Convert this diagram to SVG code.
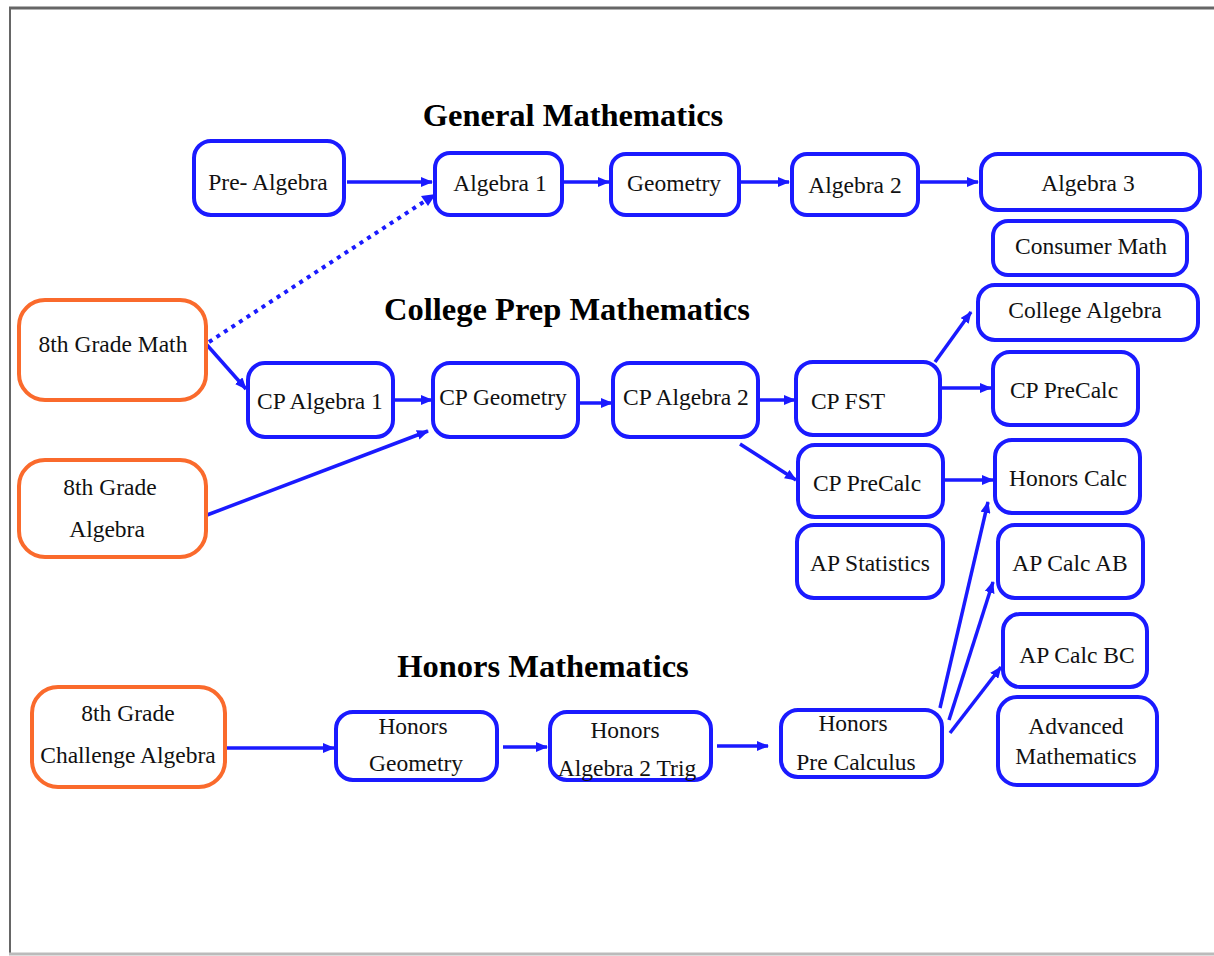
<svg xmlns="http://www.w3.org/2000/svg" width="1214" height="956" viewBox="0 0 1214 956">
<style>
.b{fill:#fff;stroke:#1a1aff;stroke-width:4}
.o{fill:#fff;stroke:#fa6a2c;stroke-width:4}
.t{font-family:"Liberation Serif","Times New Roman",serif;font-size:23.5px;fill:#111;text-anchor:middle}
.h{font-family:"Liberation Serif","Times New Roman",serif;font-size:32.5px;font-weight:bold;fill:#000;text-anchor:middle}
.c{stroke:#1a1aff;stroke-width:3.5;fill:none;marker-end:url(#ah)}
</style>
<defs>
<marker id="ah" markerUnits="userSpaceOnUse" markerWidth="12" markerHeight="10" refX="11" refY="5" orient="auto">
<path d="M0,0 L12,5 L0,10 Z" fill="#1a1aff"/>
</marker>
</defs>
<rect x="0" y="0" width="1214" height="956" fill="#fff"/>
<g id="frame">
<line x1="9" y1="8" x2="1214" y2="8" stroke="#666" stroke-width="3"/>
<line x1="10" y1="7" x2="10" y2="954" stroke="#666" stroke-width="2"/>
<line x1="9" y1="954" x2="1214" y2="954" stroke="#bbb" stroke-width="3"/>
</g>
<g id="titles">
<text class="h" x="573" y="126">General Mathematics</text>
<text class="h" x="567" y="320">College Prep Mathematics</text>
<text class="h" x="543" y="677">Honors Mathematics</text>
</g>
<g id="connectors">
<line class="c" x1="347" y1="182" x2="432" y2="182"/>
<line class="c" x1="563" y1="182" x2="609" y2="182"/>
<line class="c" x1="740" y1="182" x2="789" y2="182"/>
<line class="c" x1="919" y1="182" x2="978" y2="182"/>
<line x1="209" y1="342" x2="425" y2="201" stroke="#1a1aff" stroke-width="4" stroke-dasharray="4 5" fill="none"/>
<path d="M436,194 L421,196 L428,206 Z" fill="#1a1aff"/>
<line class="c" x1="207" y1="345" x2="246" y2="389"/>
<line class="c" x1="207" y1="515" x2="428" y2="431"/>
<line class="c" x1="394" y1="400" x2="432" y2="400"/>
<line class="c" x1="579" y1="403" x2="612" y2="403"/>
<line class="c" x1="759" y1="400" x2="795" y2="400"/>
<line class="c" x1="740" y1="444" x2="796" y2="480"/>
<line class="c" x1="935" y1="362" x2="971" y2="312"/>
<line class="c" x1="942" y1="388" x2="991" y2="388"/>
<line class="c" x1="944" y1="480" x2="993" y2="480"/>
<line class="c" x1="226" y1="748" x2="334" y2="748"/>
<line class="c" x1="503" y1="747" x2="547" y2="747"/>
<line class="c" x1="717" y1="746" x2="768" y2="746"/>
<line class="c" x1="940" y1="708" x2="988" y2="502"/>
<line class="c" x1="949" y1="720" x2="993" y2="582"/>
<line class="c" x1="950" y1="733" x2="1001" y2="667"/>
</g>
<g id="pre-algebra"><rect class="b" x="194" y="141" width="150" height="74" rx="17"/><text class="t" x="268" y="190">Pre- Algebra</text></g>
<g id="algebra-1"><rect class="b" x="435" y="153" width="127" height="62" rx="15"/><text class="t" x="500" y="191">Algebra 1</text></g>
<g id="geometry"><rect class="b" x="611" y="154" width="128" height="61" rx="15"/><text class="t" x="674" y="191">Geometry</text></g>
<g id="algebra-2"><rect class="b" x="792" y="154" width="126" height="61" rx="15"/><text class="t" x="855" y="193">Algebra 2</text></g>
<g id="algebra-3"><rect class="b" x="981" y="154" width="219" height="56" rx="17"/><text class="t" x="1088" y="191">Algebra 3</text></g>
<g id="consumer-math"><rect class="b" x="993" y="221" width="194" height="54" rx="15"/><text class="t" x="1091" y="254">Consumer Math</text></g>
<g id="college-algebra"><rect class="b" x="978" y="285" width="220" height="55" rx="17"/><text class="t" x="1085" y="318">College Algebra</text></g>
<g id="grade8-math"><rect class="o" x="19" y="300" width="187" height="100" rx="26"/><text class="t" x="113" y="352">8th Grade Math</text></g>
<g id="grade8-algebra"><rect class="o" x="19" y="460" width="187" height="97" rx="26"/><text class="t" x="110" y="495">8th Grade</text><text class="t" x="107" y="537">Algebra</text></g>
<g id="cp-algebra-1"><rect class="b" x="248" y="363" width="145" height="74" rx="17"/><text class="t" x="320" y="409">CP Algebra 1</text></g>
<g id="cp-geometry"><rect class="b" x="433" y="363" width="145" height="74" rx="17"/><text class="t" x="503" y="405">CP Geometry</text></g>
<g id="cp-algebra-2"><rect class="b" x="613" y="363" width="145" height="74" rx="17"/><text class="t" x="686" y="405">CP Algebra 2</text></g>
<g id="cp-fst"><rect class="b" x="796" y="362" width="144" height="73" rx="17"/><text class="t" x="848" y="409">CP FST</text></g>
<g id="cp-precalc-right"><rect class="b" x="993" y="352" width="145" height="73" rx="17"/><text class="t" x="1064" y="398">CP PreCalc</text></g>
<g id="cp-precalc-mid"><rect class="b" x="798" y="445" width="145" height="72" rx="17"/><text class="t" x="867" y="491">CP PreCalc</text></g>
<g id="honors-calc"><rect class="b" x="995" y="440" width="145" height="73" rx="17"/><text class="t" x="1068" y="486">Honors Calc</text></g>
<g id="ap-statistics"><rect class="b" x="797" y="525" width="146" height="73" rx="17"/><text class="t" x="870" y="571">AP Statistics</text></g>
<g id="ap-calc-ab"><rect class="b" x="998" y="525" width="145" height="73" rx="17"/><text class="t" x="1070" y="571">AP Calc AB</text></g>
<g id="ap-calc-bc"><rect class="b" x="1003" y="614" width="144" height="73" rx="17"/><text class="t" x="1077" y="663">AP Calc BC</text></g>
<g id="advanced-math"><rect class="b" x="998" y="697" width="159" height="88" rx="19"/><text class="t" x="1076" y="734">Advanced</text><text class="t" x="1076" y="764">Mathematics</text></g>
<g id="grade8-challenge"><rect class="o" x="32" y="687" width="193" height="100" rx="26"/><text class="t" x="128" y="721">8th Grade</text><text class="t" x="128" y="763">Challenge Algebra</text></g>
<g id="honors-geometry"><rect class="b" x="336" y="712" width="161" height="68" rx="17"/><text class="t" x="413" y="734">Honors</text><text class="t" x="416" y="771">Geometry</text></g>
<g id="honors-alg2-trig"><rect class="b" x="550" y="712" width="161" height="68" rx="17"/><text class="t" x="625" y="738">Honors</text><text class="t" x="627" y="776">Algebra 2 Trig</text></g>
<g id="honors-precalc"><rect class="b" x="781" y="710" width="161" height="67" rx="17"/><text class="t" x="853" y="731">Honors</text><text class="t" x="856" y="770">Pre Calculus</text></g>
</svg>
